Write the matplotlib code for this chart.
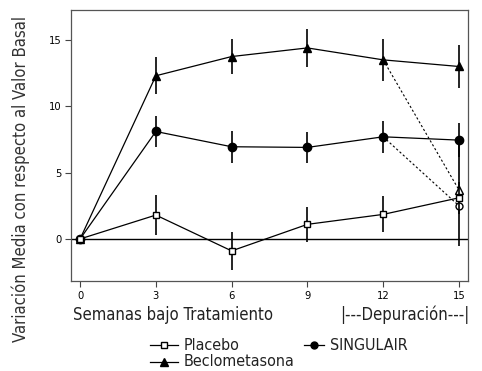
import matplotlib
matplotlib.use("Agg")
from matplotlib import pyplot as plt
from matplotlib.lines import Line2D

plt.rcParams['font.family'] = ['DejaVu Sans']
plt.rcParams['font.stretch'] = 'condensed'

weeks = [0, 3, 6, 9, 12, 15]
placebo = [0, 1.8, -0.9, 1.1, 1.85, 3.1]
placebo_err = [0, 1.5, 1.45, 1.3, 1.35, 1.2]
singulair = [0, 8.1, 6.95, 6.9, 7.7, 7.45]
singulair_err = [0, 1.15, 1.2, 1.17, 1.2, 1.3]
beclo = [0, 12.3, 13.75, 14.4, 13.5, 13.0]
beclo_err = [0, 1.4, 1.3, 1.45, 1.6, 1.6]

# washout (depuracion) points at week 15
washout_weeks = [12, 15]
singulair_wash = [7.7, 2.5]
beclo_wash = [13.5, 3.7]

W, H = 482, 371
fig = plt.figure(figsize=(W / 100, H / 100), dpi=100)
ax = fig.add_axes([0.1473, 0.2426, 0.8237, 0.7305])

ax.axhline(0, color='black', lw=1.0, zorder=1)

# dotted washout lines
ax.plot(washout_weeks, beclo_wash, ls=(0, (2, 2)), color='black', lw=0.8)
ax.plot(washout_weeks, singulair_wash, ls=(0, (2, 2)), color='black', lw=0.8)
ax.errorbar([15], [singulair_wash[1]], yerr=[[3.0], [5.0]], fmt='o', mfc='white',
            mec='black', ms=5, ecolor='black', elinewidth=1.2, zorder=3)
ax.plot([15], [beclo_wash[1]], marker='^', mfc='white', mec='black', ms=6, ls='none', zorder=3)

ax.errorbar(weeks, beclo, yerr=beclo_err, color='black', lw=0.9, marker='^', ms=6,
            elinewidth=1.2, capsize=0, zorder=4)
ax.errorbar(weeks, singulair, yerr=singulair_err, color='black', lw=0.9, marker='o', ms=6,
            elinewidth=1.2, capsize=0, zorder=4)
ax.errorbar(weeks, placebo, yerr=placebo_err, color='black', lw=0.9, marker='s', ms=5,
            mfc='white', mec='black', elinewidth=1.2, capsize=0, zorder=5)

ax.set_xlim(-0.36, 15.36)
ax.set_ylim(-3.17, 17.26)
ax.set_xticks(weeks)
ax.set_yticks([0, 5, 10, 15])
ax.tick_params(direction='out', length=4, width=0.8, labelsize=8, color='#444444', pad=3)
for s in ax.spines.values():
    s.set_color('#555555')
    s.set_linewidth(0.9)

fig.text(21 / W, 1 - 179 / H, "Variación Media con respecto al Valor Basal", fontsize=12,
         rotation=90, ha='center', va='center', color='#333333')
fig.text(73 / W, 1 - 315 / H, "Semanas bajo Tratamiento", fontsize=12, ha='left', va='center', color='#222222')
fig.text(469 / W, 1 - 315 / H, "|---Depuración---|", fontsize=12, ha='right', va='center', color='#222222')

# legend drawn by hand: (x0, x1, y, marker, fill, label)
legend_items = [
    (150, 178, 345, 's', 'white', "Placebo"),
    (150, 178, 362, '^', 'black', "Beclometasona"),
    (304, 324, 345, 'o', 'black', "SINGULAIR"),
]
for x0, x1, y, mk, fc, lab in legend_items:
    fig.add_artist(Line2D([x0 / W, x1 / W], [1 - y / H] * 2, color='black', lw=0.9,
                          transform=fig.transFigure))
    fig.add_artist(Line2D([(x0 + x1) / 2 / W], [1 - y / H], marker=mk, mfc=fc, mec='black',
                          ms=5 if mk != '^' else 6, transform=fig.transFigure))
    fig.text((x1 + 6) / W, 1 - y / H, lab, fontsize=11.5, ha='left', va='center', color='#222222')

fig.savefig("out.png", dpi=100)
